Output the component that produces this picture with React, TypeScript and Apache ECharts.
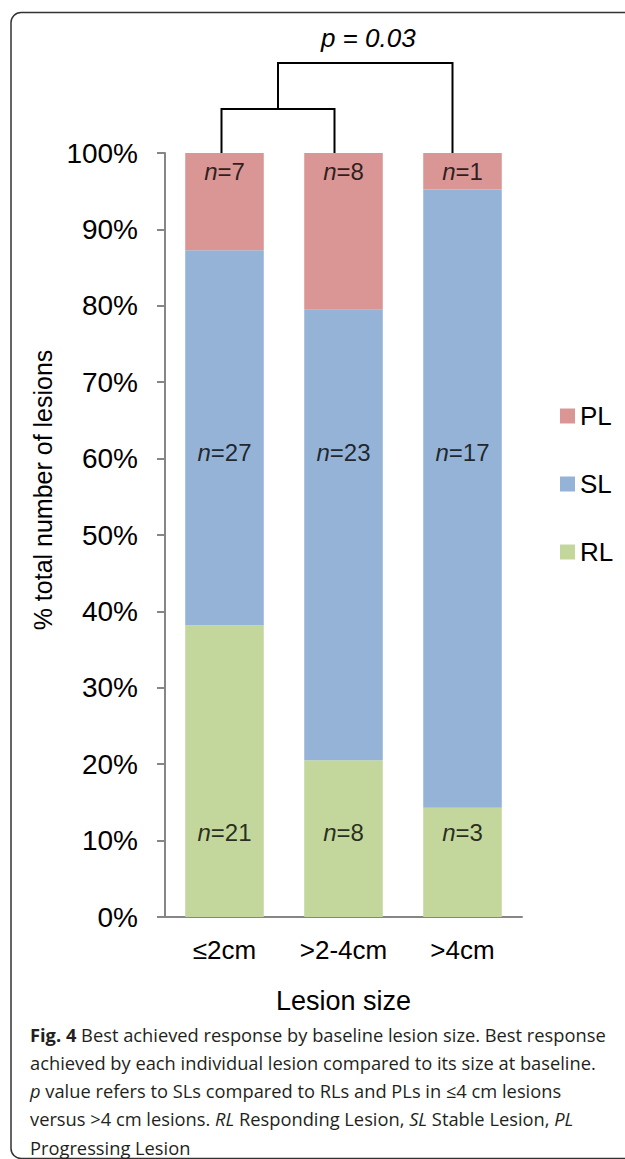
import React, { useEffect, useRef } from "react";
import * as echarts from "echarts";

const categories = ["≤2cm", ">2-4cm", ">4cm"];
const seriesNames = ["PL", "SL", "RL"];
const rlCounts = [21, 8, 3];
const slCounts = [27, 23, 17];
const plCounts = [7, 8, 1];
const colors = { PL: "#D99694", SL: "#95B3D7", RL: "#C3D69B" };
// value positions (in %) where the "n=" labels sit
const labelLevels = { PL: 97.6, SL: 60.8, RL: 11.0 };
const pValueText = "p = 0.03";
const captionLines = [
  "{b|Fig. 4} Best achieved response by baseline lesion size. Best response",
  "achieved by each individual lesion compared to its size at baseline.",
  "{i|p} value refers to SLs compared to RLs and PLs in ≤4 cm lesions",
  "versus >4 cm lesions. {i|RL} Responding Lesion, {i|SL} Stable Lesion, {i|PL}",
  "Progressing Lesion",
];

const FONT = "'Liberation Sans', Arial, sans-serif";
const CAP_FONT = "'Open Sans', 'Noto Sans', sans-serif";

export default function App() {
  const ref = useRef<HTMLDivElement>(null);
  useEffect(() => {
    if (!ref.current) return;
    const chart = echarts.init(ref.current, null, { renderer: "svg" });
    const totals = categories.map((_, i) => rlCounts[i] + slCounts[i] + plCounts[i]);
    const pct = (arr: number[]) => arr.map((v, i) => (v / totals[i]) * 100);

    const labelData: any[] = [];
    categories.forEach((_, i) => {
      labelData.push([i, labelLevels.PL, plCounts[i]]);
      labelData.push([i, labelLevels.SL, slCounts[i]]);
      labelData.push([i, labelLevels.RL, rlCounts[i]]);
    });

    const capSize = 18.3;
    const capLH = 20;
    const captionGraphics = captionLines.map((line, k) => ({
      type: "text",
      id: "cap" + k,
      left: 30,
      top: 1024 + k * 28.3,
      style: {
        text: line,
        fontFamily: CAP_FONT,
        fontSize: capSize,
        lineHeight: capLH,
        fill: "#231f20",
        rich: {
          b: { fontWeight: "bold", fontFamily: CAP_FONT, fontSize: capSize, lineHeight: capLH, fill: "#231f20" },
          i: { fontStyle: "italic", fontFamily: CAP_FONT, fontSize: capSize, lineHeight: capLH, fill: "#231f20" },
        },
      },
    }));

    chart.setOption({
      animation: false,
      grid: { left: 165, right: 103, top: 153, bottom: 242 },
      legend: {
        data: seriesNames,
        orient: "vertical",
        left: 555,
        top: 397,
        itemWidth: 15,
        itemHeight: 15,
        itemGap: 40,
        icon: "rect",
        textStyle: { fontFamily: FONT, fontSize: 26, color: "#000", lineHeight: 28 },
        selectedMode: false,
      },
      xAxis: {
        type: "category",
        data: categories,
        name: "Lesion size",
        nameLocation: "middle",
        nameGap: 70,
        nameTextStyle: { fontFamily: FONT, fontSize: 27, color: "#000" },
        axisLine: { lineStyle: { color: "#868686", width: 2 } },
        axisTick: { length: 8, lineStyle: { color: "#868686", width: 2 } },
        axisLabel: { fontFamily: FONT, fontSize: 26, color: "#000", margin: 20 },
      },
      yAxis: {
        type: "value",
        min: 0,
        max: 100,
        interval: 10,
        name: "% total number of lesions",
        nameLocation: "middle",
        nameGap: 105,
        nameRotate: 90,
        nameTextStyle: { fontFamily: FONT, fontSize: 25, color: "#000", padding: [0, 0, 0, 90] },
        splitLine: { show: false },
        axisLine: { show: true, lineStyle: { color: "#868686", width: 2 } },
        axisTick: { show: true, length: 8, lineStyle: { color: "#868686", width: 2 } },
        axisLabel: { formatter: "{value}%", fontFamily: FONT, fontSize: 28, color: "#000", margin: 27 },
      },
      series: [
        { name: "RL", type: "bar", stack: "total", data: pct(rlCounts), barWidth: "66%", itemStyle: { color: colors.RL } },
        { name: "SL", type: "bar", stack: "total", data: pct(slCounts), itemStyle: { color: colors.SL } },
        { name: "PL", type: "bar", stack: "total", data: pct(plCounts), itemStyle: { color: colors.PL } },
        {
          type: "scatter",
          name: "labels",
          data: labelData,
          symbolSize: 0,
          itemStyle: { color: "transparent" },
          silent: true,
          z: 5,
          label: {
            show: true,
            position: "inside",
            formatter: (p: any) => "{i|n}{r|=" + p.data[2] + "}",
            rich: {
              i: { fontStyle: "italic", fontFamily: FONT, fontSize: 24, color: "#000" },
              r: { fontFamily: FONT, fontSize: 24, color: "#000" },
            },
            fontFamily: FONT,
            fontSize: 24,
            color: "#000",
            textBorderWidth: 0,
          },
        },
      ],
      graphic: [
        {
          type: "rect",
          id: "frame",
          shape: { x: 11, y: 12.5, width: 720, height: 1146, r: 10 },
          style: { fill: "none", stroke: "#333", lineWidth: 1.5 },
          silent: true,
          z: -1,
        },
        ...captionGraphics,
      ],
    });

    const p0 = chart.convertToPixel({ gridIndex: 0 }, [0, 100]) as number[];
    const p1 = chart.convertToPixel({ gridIndex: 0 }, [1, 100]) as number[];
    const p2 = chart.convertToPixel({ gridIndex: 0 }, [2, 100]) as number[];
    const yb = p0[1];
    const xa = p0[0] - 3;
    const xb = p1[0] - 9;
    const xc = p2[0] - 10;
    const ySmall = yb - 44;
    const yBig = yb - 90;
    const xm = (xa + xb) / 2;
    chart.setOption({
      graphic: [
        {
          type: "polyline",
          id: "br1",
          shape: { points: [[xa, yb], [xa, ySmall], [xb, ySmall], [xb, yb]] },
          style: { stroke: "#000", lineWidth: 2, fill: "none" },
        },
        {
          type: "polyline",
          id: "br2",
          shape: { points: [[xm, ySmall], [xm, yBig], [xc, yBig], [xc, yb]] },
          style: { stroke: "#000", lineWidth: 2, fill: "none" },
        },
        {
          type: "text",
          id: "pval",
          x: (xm + xc) / 2 + 3,
          y: yb - 115,
          style: {
            text: pValueText,
            fontFamily: FONT,
            fontStyle: "italic",
            fontSize: 26,
            fill: "#000",
            align: "center",
            verticalAlign: "middle",
          },
        },
      ],
    });

    return () => chart.dispose();
  }, []);
  return (
    <div
      ref={ref}
      style={{ position: "absolute", left: 0, top: 0, width: 625, height: 1159, background: "#fff" }}
    />
  );
}
